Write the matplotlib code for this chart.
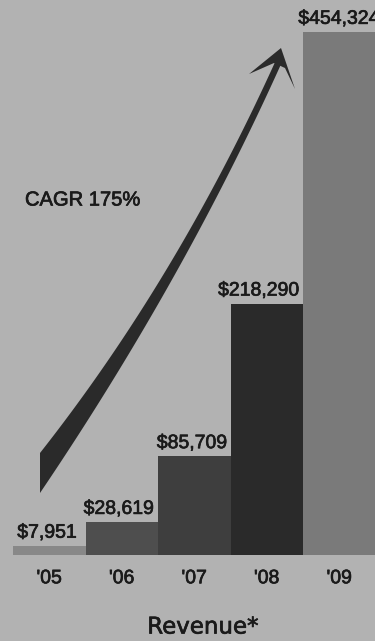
import numpy as np
import matplotlib
matplotlib.use("Agg")
from matplotlib import pyplot as plt
from matplotlib.patches import Polygon
import matplotlib.patheffects as pe

# revenue by fiscal year
years = ["'05", "'06", "'07", "'08", "'09"]
revenue = [7951, 28619, 85709, 218290, 454324]
value_labels = ["$7,951", "$28,619", "$85,709", "$218,290", "$454,324"]
bar_colors = ["#888888", "#4e4e4e", "#3e3e3e", "#2a2a2a", "#7a7a7a"]

BG = "#b2b2b2"
INK = "#1a1a1a"
W, H = 375, 641
# slightly heavier strokes for the printed look of the type
ink_fx = [pe.withStroke(linewidth=0.5, foreground=INK)]


def bezier(p0, p1, p2, n=80):
    t = np.linspace(0, 1, n)[:, None]
    return (1 - t) ** 2 * np.array(p0) + 2 * (1 - t) * t * np.array(p1) + t ** 2 * np.array(p2)


fig = plt.figure(figsize=(W / 100, H / 100), dpi=100, facecolor=BG)

# bar axes: baseline at 555px, tallest bar top at 32px
ax = fig.add_axes([13 / W, 86 / H, 362.5 / W, 541 / H])
ax.set_facecolor(BG)
x = np.arange(len(years))
ax.bar(x, revenue, width=1.0, color=bar_colors, linewidth=0)
ax.set_xlim(-0.5, 4.5)
ax.set_ylim(0, revenue[-1] * 541 / 523)
shift = [-0.03, -0.04, -0.03, -0.11, 0.0]
for xi, v, lab, dx in zip(x, revenue, value_labels, shift):
    ax.annotate(lab, (xi + dx, v), xytext=(0, 3), textcoords="offset points",
                ha="center", va="bottom", fontsize=14, color=INK,
                family="Liberation Sans", annotation_clip=False,
                path_effects=ink_fx)
ax.set_xticks(x)
ax.set_xticklabels(years, fontsize=14, color=INK, family="Liberation Sans")
for t in ax.get_xticklabels():
    t.set_path_effects(ink_fx)
ax.tick_params(axis="x", length=0, pad=11)
ax.set_yticks([])
for s in ax.spines.values():
    s.set_visible(False)

fig.text(203 / W, (H - 627) / H, "Revenue*", ha="center", va="center",
         fontsize=16.5, color=INK, family="Liberation Sans Narrow",
         path_effects=ink_fx)

# growth arrow drawn on a pixel-space overlay
ov = fig.add_axes([0, 0, 1, 1])
ov.set_xlim(0, W)
ov.set_ylim(H, 0)
ov.axis("off")
ov.patch.set_alpha(0)

left_edge = bezier((40, 453), (177, 279), (276, 60))
right_edge = bezier((40, 493), (184, 280), (282, 62))
shaft = np.vstack([left_edge, right_edge[::-1]])
ov.add_patch(Polygon(shaft, closed=True, color="#2a2a2a", lw=0))
head = [(281, 48), (249, 74), (274, 63), (285, 68), (295, 89)]
ov.add_patch(Polygon(head, closed=True, color="#2a2a2a", lw=0))

ov.text(25, 200, "CAGR 175%", ha="left", va="center", fontsize=14.5,
        color=INK, family="Liberation Sans", path_effects=ink_fx)

fig.savefig("out.png", dpi=100, facecolor=BG)
